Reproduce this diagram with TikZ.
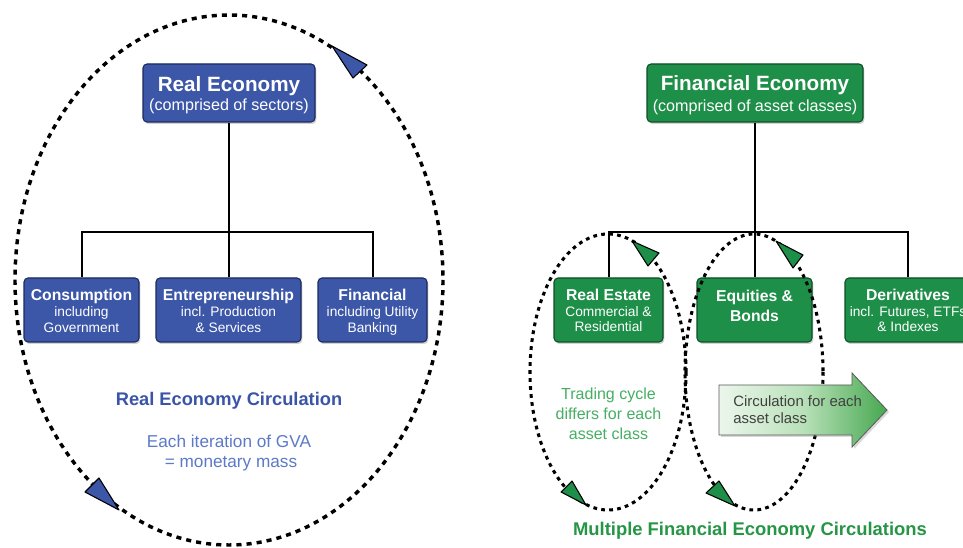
\documentclass[tikz,border=0pt]{standalone}
\usepackage{fontspec}
\setmainfont{Liberation Sans}
\usetikzlibrary{shadows}
\definecolor{bfill}{RGB}{60,86,168}
\definecolor{bedge}{RGB}{28,42,92}
\definecolor{gfill}{RGB}{30,143,72}
\definecolor{gedge}{RGB}{14,78,38}
\definecolor{btext}{RGB}{58,84,168}
\definecolor{lbtext}{RGB}{92,122,200}
\definecolor{gtext}{RGB}{38,150,70}
\definecolor{lgtext}{RGB}{70,175,100}
\definecolor{arrL}{RGB}{236,246,236}
\definecolor{arrM}{RGB}{185,225,185}
\definecolor{arrR}{RGB}{70,168,80}
\begin{document}
\begin{tikzpicture}[x=0.75pt,y=-0.75pt,
  boxbase/.style={rectangle,rounded corners=3pt,line width=0.8pt,inner sep=0pt,
    drop shadow={shadow xshift=1pt,shadow yshift=-1.5pt,opacity=0.35}},
  bluebox/.style={boxbase,draw=bedge,fill=bfill},
  greenbox/.style={boxbase,draw=gedge,fill=gfill},
  conn/.style={line width=1.5pt,black},
  bigloop/.style={line width=2.6pt,dash pattern=on 3.8pt off 3.8pt},
  smallloop/.style={line width=2.3pt,dash pattern=on 2.8pt off 3.2pt},
  tl/.style={anchor=base,inner sep=0pt,white},
  ttl/.style={tl,font=\fontsize{15.5pt}{18pt}\selectfont\bfseries},
  tsub/.style={tl,font=\fontsize{12.1pt}{14pt}\selectfont},
  sttl/.style={tl,font=\fontsize{11.8pt}{14pt}\selectfont\bfseries},
  ssub/.style={tl,font=\fontsize{10.3pt}{12pt}\selectfont},
  headb/.style={fill=bfill,draw=black,line width=0.8pt,line join=round},
  headg/.style={fill=gfill,draw=black,line width=0.8pt,line join=round}]
\useasboundingbox (0,0) rectangle (963,548);
\clip (0,0) rectangle (963,548);
\fill[white] (0,0) rectangle (963,548);

% ---------------- Left: Real Economy ----------------
\node[bluebox,minimum width=172*0.75pt,minimum height=58*0.75pt] (re) at (229,93) {};
\node[bluebox,minimum width=115*0.75pt,minimum height=64*0.75pt] (c1) at (81.5,310) {};
\node[bluebox,minimum width=145*0.75pt,minimum height=64*0.75pt] (c2) at (228.5,310) {};
\node[bluebox,minimum width=109*0.75pt,minimum height=64*0.75pt] (c3) at (372.5,310) {};
\coordinate (rbus) at (229,232);
\draw[conn] (re.south) -- (re.south |- c2.north);
\draw[conn] (c1.north) -- (c1.north |- rbus) -- (c3.north |- rbus) -- (c3.north);

\node[ttl] (re1) at (229,92) {Real Economy};
\node[tsub] (re2) at (229,111) {(comprised of sectors)};
\node[sttl] (c1a) at (81.5,300.5) {Consumption};
\node[ssub] (c1b) at (81.5,316.5) {including};
\node[ssub] (c1c) at (81.5,332.5) {Government};
\node[sttl] (c2a) at (228.5,300.5) {Entrepreneurship};
\node[ssub] (c2b) at (228.5,316.5) {incl. Production};
\node[ssub] (c2c) at (228.5,332.5) {\& Services};
\node[sttl] (c3a) at (372.5,300.5) {Financial};
\node[ssub] (c3b) at (372.5,316.5) {including Utility};
\node[ssub] (c3c) at (372.5,332.5) {Banking};

\draw[bigloop] (229,280) ellipse [x radius=214,y radius=265];
\draw[headb] (332,46) -- (367,65) -- (353,78) -- cycle;
\draw[headb] (119,510) -- (85,492) -- (99,478) -- cycle;

\node[anchor=base,inner sep=0pt,text=btext,font=\fontsize{13.7pt}{16pt}\selectfont\bfseries] (rec) at (229,405.5) {Real Economy Circulation};
\node[anchor=base,inner sep=0pt,text=lbtext,font=\fontsize{12.9pt}{15pt}\selectfont] (gva1) at (229,447.5) {Each iteration of GVA};
\node[anchor=base,inner sep=0pt,text=lbtext,font=\fontsize{12.9pt}{15pt}\selectfont] (gva2) at (231,467.5) {= monetary mass};

% ---------------- Right: Financial Economy ----------------
\node[greenbox,minimum width=216*0.75pt,minimum height=58*0.75pt] (fe) at (755,93) {};
\node[greenbox,minimum width=109*0.75pt,minimum height=64*0.75pt] (f1) at (608.5,310) {};
\node[greenbox,minimum width=115*0.75pt,minimum height=64*0.75pt] (f2) at (754.5,310) {};
\node[greenbox,minimum width=126*0.75pt,minimum height=64*0.75pt] (f3) at (908,310) {};
\coordinate (fbus) at (755,232);
\draw[conn] (fe.south) -- (fe.south |- f2.north);
\draw[conn] (f1.north) -- (f1.north |- fbus) -- (f3.north |- fbus) -- (f3.north);

\node[ttl] (fe1) at (755,91) {Financial Economy};
\node[tsub] (fe2) at (755,111.5) {(comprised of asset classes)};
\node[sttl] (f1a) at (608.5,301) {Real Estate};
\node[ssub] (f1b) at (608.5,316.5) {Commercial \&};
\node[ssub] (f1c) at (608.5,332) {Residential};
\node[sttl] (f2a) at (754.5,301.5) {Equities \&};
\node[sttl] (f2b) at (754.5,321.5) {Bonds};
\node[sttl] (f3a) at (908,301) {Derivatives};
\node[ssub] (f3b) at (908,316.5) {incl. Futures, ETFs};
\node[ssub] (f3c) at (908,332) {\& Indexes};

\draw[smallloop] (608,372) ellipse [x radius=78,y radius=138];
\draw[smallloop] (754,372) ellipse [x radius=69,y radius=138];
\draw[headg] (632,241) -- (659,253) -- (648,266) -- cycle;
\draw[headg] (586,505) -- (561,492) -- (572,481) -- cycle;
\draw[headg] (776,241) -- (803,255) -- (793,268) -- cycle;
\draw[headg] (735,506) -- (706,493) -- (719,481) -- cycle;

% circulation arrow
\path[draw=gray!70!black,line width=0.6pt,left color=arrL,right color=arrR,middle color=arrM,
  drop shadow={shadow xshift=1.5pt,shadow yshift=-1.5pt,opacity=0.3}]
  (719,385) -- (852,385) -- (852,373) -- (887,410) -- (852,447) -- (852,435) -- (719,435) -- cycle;
\node[anchor=base west,inner sep=0pt,text=black!75,font=\fontsize{11.2pt}{13pt}\selectfont] (ca1) at (733,406.5) {Circulation for each};
\node[anchor=base west,inner sep=0pt,text=black!75,font=\fontsize{11.2pt}{13pt}\selectfont] (ca2) at (733,424) {asset class};

\node[anchor=base,inner sep=0pt,text=lgtext,font=\fontsize{12pt}{14pt}\selectfont] (tc1) at (608.5,400) {Trading cycle};
\node[anchor=base,inner sep=0pt,text=lgtext,font=\fontsize{12pt}{14pt}\selectfont] (tc2) at (608.5,420) {differs for each};
\node[anchor=base,inner sep=0pt,text=lgtext,font=\fontsize{12pt}{14pt}\selectfont] (tc3) at (608.5,440) {asset class};

\node[anchor=base,inner sep=0pt,text=gtext,font=\fontsize{13.8pt}{16pt}\selectfont\bfseries] (mfe) at (750,535) {Multiple Financial Economy Circulations};
\end{tikzpicture}
\end{document}
